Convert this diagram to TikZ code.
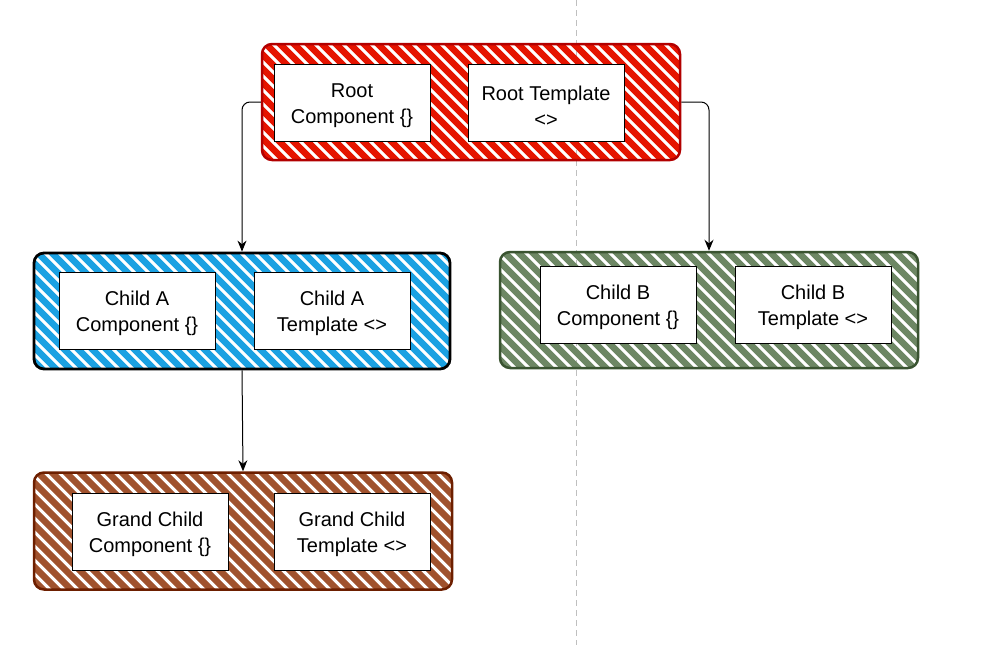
\documentclass[tikz,border=0pt]{standalone}
\usepackage{fontspec}
\setmainfont{Liberation Sans}
\usetikzlibrary{calc,arrows.meta}

\definecolor{rootfill}{HTML}{E51400}
\definecolor{rootline}{HTML}{B20000}
\definecolor{afill}{HTML}{1BA1E2}
\definecolor{bfill}{HTML}{6D8764}
\definecolor{bline}{HTML}{3A5431}
\definecolor{gfill}{HTML}{A0522D}
\definecolor{gline}{HTML}{6D1F00}

\newcommand{\tstrut}{\rule{0pt}{20pt}}

\tikzset{
  group/.style={minimum width=418pt, minimum height=116pt, rounded corners=10pt, line width=2.5pt, inner sep=0pt},
  hatch/.style={path picture={
      \foreach \i in {-10,...,34} {
        \draw[#1, line width=6.5pt, line cap=round]
          ($(path picture bounding box.north west)+(\i*14pt,4pt)$) -- ++(150pt,-150pt);
      }
  }},
  inbox/.style={draw, fill=white, line width=0.8pt, minimum width=156pt, minimum height=77pt,
    inner sep=0pt, align=center, font=\fontsize{20}{26}\selectfont}
}

\begin{document}
\begin{tikzpicture}[x=1pt,y=-1pt,>={Stealth[length=11pt,width=9pt]}]
    \useasboundingbox (0,0) rectangle (983,645);

    % divider
    \coordinate (divtop) at (576,0);
    \coordinate (divbot) at (576,645);
    \draw[black!25, line width=1pt, dash pattern=on 6pt off 4pt] (divtop) -- (divbot);

    % groups
    \node[group, draw=rootline, hatch=rootfill] (root) at (471,102) {};
    \node[group, draw=black, line width=2.8pt, minimum width=416pt, hatch=afill] (childA) at (242,311) {};
    \node[group, draw=bline, hatch=bfill] (childB) at (709,310) {};
    \node[group, draw=gline, minimum height=117pt, hatch=gfill] (grand) at (243,531) {};

    % boxes
    \node[inbox] (rootcomp) at (352,103) {\tstrut Root\\Component \{\}};
    \node[inbox] (roottmpl) at (546,103) {\tstrut Root Template\\<>};
    \node[inbox] (acomp) at (137,311) {\tstrut Child A\\Component \{\}};
    \node[inbox] (atmpl) at (332,311) {\tstrut Child A\\Template <>};
    \node[inbox] (bcomp) at (618,305) {\tstrut Child B\\Component \{\}};
    \node[inbox] (btmpl) at (813,305) {\tstrut Child B\\Template <>};
    \node[inbox] (gcomp) at (150,532) {\tstrut Grand Child\\Component \{\}};
    \node[inbox] (gtmpl) at (352,532) {\tstrut Grand Child\\Template <>};

    % links
    \draw[->, line width=1pt, rounded corners=8pt] (root.west) -| (childA.north);
    \draw[->, line width=1pt, rounded corners=8pt] (root.east) -| (childB.north);
    \draw[->, line width=1pt] (childA.south) -- (grand.north);
\end{tikzpicture}
\end{document}
